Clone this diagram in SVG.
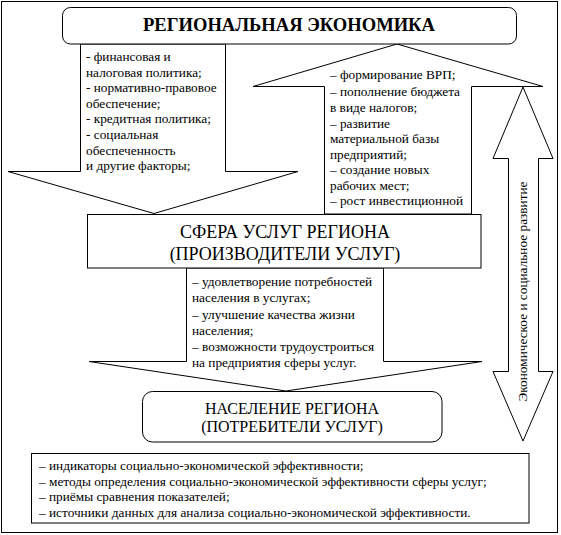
<svg xmlns="http://www.w3.org/2000/svg" width="561" height="535" viewBox="0 0 561 535">
<style>
.ln{fill:#fff;stroke:#000;stroke-width:1}
</style>
<rect x="0" y="0" width="561" height="535" fill="#fff"/>
<rect x="1.5" y="1.5" width="556" height="531" fill="#fff" stroke="#000" stroke-width="1"/>
<g id="connectors">
  <g id="arrow-down-top">
    <polygon class="ln" points="80.5,44 80.5,171.5 8,171.5 154,213.5 298,171.5 225.5,171.5 225.5,44"/>
    <text font-family="Liberation Serif" font-size="13.3" x="86" y="61">- финансовая и</text>
    <text font-family="Liberation Serif" font-size="13.3" x="86" y="76.6">налоговая политика;</text>
    <text font-family="Liberation Serif" font-size="13.3" x="86" y="92.2">- нормативно-правовое</text>
    <text font-family="Liberation Serif" font-size="13.3" x="86" y="107.8">обеспечение;</text>
    <text font-family="Liberation Serif" font-size="13.3" x="86" y="123.4">- кредитная политика;</text>
    <text font-family="Liberation Serif" font-size="13.3" x="86" y="139">- социальная</text>
    <text font-family="Liberation Serif" font-size="13.3" x="86" y="154.6">обеспеченность</text>
    <text font-family="Liberation Serif" font-size="13.3" x="86" y="170.2">и другие факторы;</text>
  </g>
  <g id="arrow-up">
    <polygon class="ln" points="324.5,214 324.5,86.5 253,86.5 397,44 543,86.5 471.5,86.5 471.5,214"/>
    <text font-family="Liberation Serif" font-size="13.3" x="330" y="79">– формирование ВРП;</text>
    <text font-family="Liberation Serif" font-size="13.3" x="330" y="96">– пополнение бюджета</text>
    <text font-family="Liberation Serif" font-size="13.3" x="330" y="112">в виде налогов;</text>
    <text font-family="Liberation Serif" font-size="13.3" x="330" y="127.5">– развитие</text>
    <text font-family="Liberation Serif" font-size="13.3" x="330" y="143">материальной базы</text>
    <text font-family="Liberation Serif" font-size="13.3" x="330" y="158.5">предприятий;</text>
    <text font-family="Liberation Serif" font-size="13.3" x="330" y="174">– создание новых</text>
    <text font-family="Liberation Serif" font-size="13.3" x="330" y="189.5">рабочих мест;</text>
    <text font-family="Liberation Serif" font-size="13.3" x="330" y="205">– рост инвестиционной</text>
  </g>
  <g id="arrow-down-mid">
    <polygon class="ln" points="186.5,268 186.5,361.5 89,361.5 286,391 482,361.5 383.5,361.5 383.5,268"/>
    <text font-family="Liberation Serif" font-size="13.3" x="192" y="286">– удовлетворение потребностей</text>
    <text font-family="Liberation Serif" font-size="13.3" x="192" y="302">населения в услугах;</text>
    <text font-family="Liberation Serif" font-size="13.3" x="192" y="318.5">– улучшение качества жизни</text>
    <text font-family="Liberation Serif" font-size="13.3" x="192" y="334.5">населения;</text>
    <text font-family="Liberation Serif" font-size="13.3" x="192" y="350.5">– возможности трудоустроиться</text>
    <text font-family="Liberation Serif" font-size="13.3" x="192" y="366.5">на предприятия сферы услуг.</text>
  </g>
  <g id="arrow-double">
    <polygon class="ln" points="523,87 553,158.5 538.5,158.5 538.5,371.5 553,371.5 523,441 493,371.5 508.5,371.5 508.5,158.5 493,158.5"/>
    <text font-family="Liberation Serif" font-size="13.3" transform="translate(527,291.5) rotate(-90)" text-anchor="middle">Экономическое и социальное развитие</text>
  </g>
</g>
<g id="node-economy">
  <rect class="ln" x="62.5" y="7.5" width="454" height="36.5" rx="8" ry="8"/>
  <text font-family="Liberation Serif" text-anchor="middle" x="289" y="31" font-size="18.5" font-weight="bold" textLength="292" lengthAdjust="spacingAndGlyphs">РЕГИОНАЛЬНАЯ ЭКОНОМИКА</text>
</g>
<g id="node-services">
  <rect class="ln" x="87.5" y="214.5" width="393.5" height="53.5"/>
  <text font-family="Liberation Serif" text-anchor="middle" x="285" y="237.5" font-size="18">СФЕРА УСЛУГ РЕГИОНА</text>
  <text font-family="Liberation Serif" text-anchor="middle" x="285" y="259.5" font-size="18">(ПРОИЗВОДИТЕЛИ УСЛУГ)</text>
</g>
<g id="node-population">
  <rect class="ln" x="142.5" y="391.5" width="299.5" height="50.5" rx="10" ry="10"/>
  <text font-family="Liberation Serif" text-anchor="middle" x="292" y="413.5" font-size="16">НАСЕЛЕНИЕ РЕГИОНА</text>
  <text font-family="Liberation Serif" text-anchor="middle" x="292" y="431.5" font-size="16">(ПОТРЕБИТЕЛИ УСЛУГ)</text>
</g>
<g id="node-methods">
  <rect class="ln" x="31.5" y="453.5" width="497.5" height="69.5"/>
  <text font-family="Liberation Serif" font-size="13.3" x="39" y="470">– индикаторы социально-экономической эффективности;</text>
  <text font-family="Liberation Serif" font-size="13.3" x="39" y="485.5">– методы определения социально-экономической эффективности сферы услуг;</text>
  <text font-family="Liberation Serif" font-size="13.3" x="39" y="501">– приёмы сравнения показателей;</text>
  <text font-family="Liberation Serif" font-size="13.3" x="39" y="516.5">– источники данных для анализа социально-экономической эффективности.</text>
</g>
</svg>
